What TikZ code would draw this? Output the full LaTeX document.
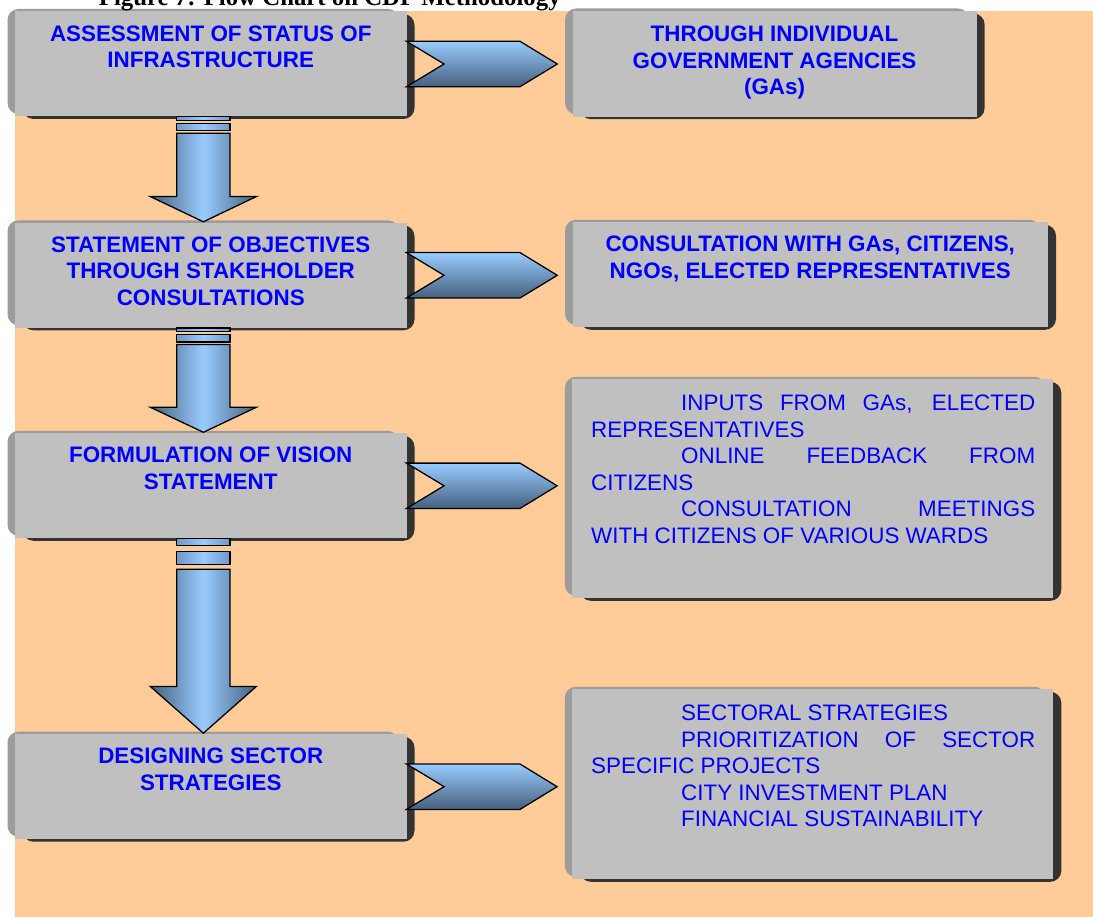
\documentclass[tikz,border=0pt]{standalone}
\usepackage{fontspec}
\setmainfont{Liberation Sans}
\newfontfamily\titlefont{Liberation Serif}
\usetikzlibrary{calc}

\definecolor{peach}{HTML}{FFCC99}
\definecolor{facegray}{HTML}{C0C0C0}
\definecolor{lightedge}{HTML}{9C9C9C}
\definecolor{darkedge}{HTML}{333333}
\definecolor{textblue}{HTML}{0000FF}
\definecolor{arrowlight}{HTML}{99CCFF}
\definecolor{arrowdark}{HTML}{45607E}
\definecolor{stripeedge}{HTML}{6E98C8}

\pgfdeclarelayer{paper}
\pgfdeclarelayer{bevel}
\pgfsetlayers{paper,bevel,main}

\begin{document}
\begin{tikzpicture}[x=1pt,y=-1pt,
  face/.style={rectangle, fill=facegray, draw=none, inner sep=0pt, outer sep=0pt},
  txt/.style={text=textblue, inner sep=0pt, font=\fontsize{22.4}{26.5}\selectfont},
  btxt/.style={text=textblue, inner sep=0pt, font=\bfseries\fontsize{22.4}{26.5}\selectfont},
  rarrow/.style={draw=black, line width=1.3pt, line join=miter,
    top color=arrowlight, bottom color=arrowdark},
  darrow/.style={draw=black, line width=1.3pt, line join=miter,
    left color=arrowdark, right color=arrowdark, middle color=arrowlight},
  stripebar/.style={draw=black, line width=1.2pt,
    left color=stripeedge, right color=stripeedge, middle color=arrowlight}
]
\useasboundingbox (0,0) rectangle (1093,917);

% paper and peach panel
\begin{pgfonlayer}{paper}
  \fill[white] (0,0) rectangle (1093,917);
  \fill[peach] (15,11) rectangle (1093,917);
\end{pgfonlayer}

% title line
\node[anchor=base west, inner sep=0pt,
      font=\titlefont\bfseries\fontsize{24.8}{28}\selectfont] (title)
      at (98.7,5.5) {Figure 7: Flow Chart on CDP Methodology};

% step boxes (left column)
\node[face, minimum width=391.5pt, minimum height=105pt] (L1) at (210.75,64) {};
\node[face, minimum width=391.5pt, minimum height=105pt] (L2) at (210.75,275.3) {};
\node[face, minimum width=391.5pt, minimum height=105pt] (L3) at (210.75,485.8) {};
\node[face, minimum width=391.5pt, minimum height=105pt] (L4) at (210.75,786.7) {};

% detail boxes (right column)
\node[face, minimum width=404.1pt, minimum height=105.7pt] (R1) at (774.55,63.85) {};
\node[face, minimum width=475.5pt, minimum height=105pt] (R2) at (810.25,274.8) {};
\node[face, minimum width=481pt, minimum height=219pt] (R3) at (812.8,488.8) {};
\node[face, minimum width=481pt, minimum height=190pt] (R4) at (812.8,784.3) {};

% bevelled edges behind every box
\begin{pgfonlayer}{bevel}
  \foreach \n in {L1,L2,L3,L4,R1,R2,R3,R4} {
    \fill[lightedge, rounded corners=11pt]
      ($(\n.north west)+(-7.5,-2.5)$) rectangle ($(\n.south east)+(-7.5,-2.5)$);
    \fill[darkedge, rounded corners=11pt]
      ($(\n.north west)+(7.5,2.5)$) rectangle ($(\n.south east)+(8,2.5)$);
  }
\end{pgfonlayer}

% notched arrows from each step to its details
\foreach \a/\b in {L1/R1,L2/R2,L3/R3,L4/R4} {
  \draw[rarrow]
    ($(\a.east)+(0,-22.7)$) -- ($(\a.east)+(113.5,-22.7)$)
    -- ($(\a.east -| \b.west)+(-15.2,0)$)
    -- ($(\a.east)+(113.5,22.7)$) -- ($(\a.east)+(0,22.7)$)
    -- ($(\a.east)+(37.5,0)$) -- cycle;
}

% striped down arrows between the steps
\foreach \a/\b in {L1/L2,L2/L3,L3/L4} {
  \coordinate (t) at ($(\a.south)+(-7.4,0.2)$);
  \coordinate (p) at ($(\b.north)+(-7.4,-1)$);
  \draw[stripebar] ($(t)+(-26.7,0)$) rectangle ($(t)!0.034!(p)+(26.7,0)$);
  \draw[stripebar] ($(t)!0.065!(p)+(-26.7,0)$) rectangle ($(t)!0.135!(p)+(26.7,0)$);
  \draw[darrow]
    ($(t)!0.158!(p)+(-26.7,0)$) -- ($(t)!0.76!(p)+(-26.7,0)$)
    -- ($(t)!0.76!(p)+(-53,0)$) -- (p)
    -- ($(t)!0.76!(p)+(53,0)$) -- ($(t)!0.76!(p)+(26.7,0)$)
    -- ($(t)!0.158!(p)+(26.7,0)$) -- cycle;
}

% step texts
\node[btxt, anchor=base] (L1t) at ($(L1.north)+(0,29.8)$)
  {\begin{tabular}[t]{@{}c@{}}ASSESSMENT OF STATUS OF\\INFRASTRUCTURE\end{tabular}};
\node[btxt, anchor=base] (L2t) at ($(L2.north)+(0,29.6)$)
  {\begin{tabular}[t]{@{}c@{}}STATEMENT OF OBJECTIVES\\THROUGH STAKEHOLDER\\CONSULTATIONS\end{tabular}};
\node[btxt, anchor=base] (L3t) at ($(L3.north)+(0,29.5)$)
  {\begin{tabular}[t]{@{}c@{}}FORMULATION OF VISION\\STATEMENT\end{tabular}};
\node[btxt, anchor=base] (L4t) at ($(L4.north)+(0,29.3)$)
  {\begin{tabular}[t]{@{}c@{}}DESIGNING SECTOR\\STRATEGIES\end{tabular}};

% detail texts
\node[btxt, anchor=base] (R1t) at ($(R1.north)+(0,30.6)$)
  {\begin{tabular}[t]{@{}c@{}}THROUGH INDIVIDUAL\\GOVERNMENT AGENCIES\\(GAs)\end{tabular}};
\node[btxt, anchor=base] (R2t) at ($(R2.north)+(0,29.5)$)
  {\begin{tabular}[t]{@{}c@{}}CONSULTATION WITH GAs, CITIZENS,\\NGOs, ELECTED REPRESENTATIVES\end{tabular}};
\node[txt, anchor=base west] (R3t) at ($(R3.north west)+(18.7,31.4)$)
  {\begin{tabular}[t]{@{}l@{}}
   \makebox[444pt][s]{\hspace{90pt}INPUTS FROM GAs, ELECTED}\\
   REPRESENTATIVES\\
   \makebox[444pt][s]{\hspace{90pt}ONLINE FEEDBACK FROM}\\
   CITIZENS\\
   \makebox[444pt][s]{\hspace{90pt}CONSULTATION MEETINGS}\\
   WITH CITIZENS OF VARIOUS WARDS
   \end{tabular}};
\node[txt, anchor=base west] (R4t) at ($(R4.north west)+(18.7,31.4)$)
  {\begin{tabular}[t]{@{}l@{}}
   \hspace*{90pt}SECTORAL STRATEGIES\\
   \makebox[444pt][s]{\hspace{90pt}PRIORITIZATION OF SECTOR}\\
   SPECIFIC PROJECTS\\
   \hspace*{90pt}CITY INVESTMENT PLAN\\
   \hspace*{90pt}FINANCIAL SUSTAINABILITY
   \end{tabular}};
\end{tikzpicture}
\end{document}
